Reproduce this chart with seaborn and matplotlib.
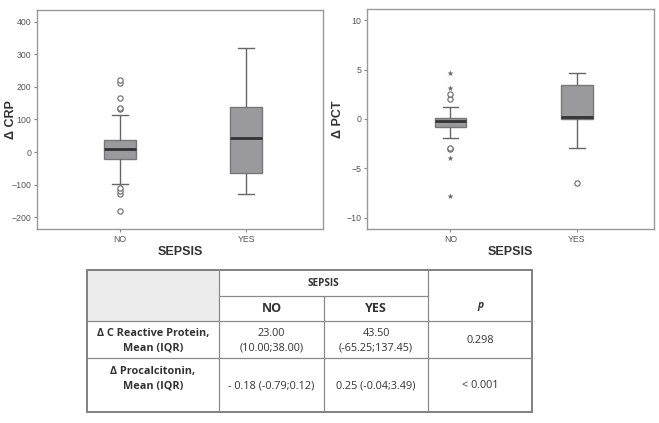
import numpy as np
import pandas as pd
import matplotlib
matplotlib.use("Agg")
import matplotlib.pyplot as plt
import seaborn as sns
from matplotlib.patches import Rectangle

# ---------------- data ----------------
groups = ["NO", "YES"]

# Δ CRP (values inside whiskers, mild outliers o)
crp_no_box = [-98, -52, -21, -14, -6, 0, 4, 7, 10, 15, 19, 24, 29, 33, 38, 114]
crp_no_out = [-182, -128, -118, -110, 131, 134, 165, 213, 222]
crp_yes_box = [-130, -95, -65.25, -10, 43.5, 90, 137.45, 210, 320]
crp_yes_out = []
crp_ticks = [-200, -100, 0, 100, 200, 300, 400]

# Δ PCT (values inside whiskers, mild outliers o, extremes *)
pct_no_box = [-1.93, -1.2, -0.79, -0.6, -0.5, -0.4, -0.3, -0.25, -0.18,
              -0.1, -0.05, 0.0, 0.05, 0.1, 0.12, 0.6, 1.25]
pct_no_out = [-3.0, -2.9, 2.03, 2.5]
pct_no_ext = [-7.8, -3.94, 3.18, 4.68]
pct_yes_box = [-2.99, -0.04, 0.1, 0.25, 1.8, 3.49, 4.1, 4.68]
pct_yes_out = [-6.48]
pct_yes_ext = []
pct_ticks = [-10, -5, 0, 5, 10]

# table text
tbl_group_title = "SEPSIS"
tbl_cols = ["NO", "YES"]
tbl_p_head = "p"
tbl_rows = ["\u0394 C Reactive Protein,\nMean (IQR)", "\u0394 Procalcitonin,\nMean (IQR)"]
tbl_no = ["23.00\n(10.00;38.00)", "- 0.18 (-0.79;0.12)"]
tbl_yes = ["43.50\n(-65.25;137.45)", "0.25 (-0.04;3.49)"]
tbl_p = ["0.298", "< 0.001"]

# ---------------- figure ----------------
W, H = 659, 423
fig = plt.figure(figsize=(W / 100, H / 100), dpi=100)
plt.rcParams["font.family"] = ["Liberation Sans", "DejaVu Sans"]

BOX = "#9a9a9c"
EDGE = "#6a6a6a"


def frame(df_list, labels):
    g, v = [], []
    for lab, vals in zip(labels, df_list):
        g += [lab] * len(vals)
        v += list(vals)
    return pd.DataFrame({"SEPSIS": g, "val": v})


def panel(rect, box_no, box_yes, out_no, out_yes, ext_no, ext_yes,
          ylabel, ylim, yticks, ylab_x):
    x0, y0, x1, y1 = rect
    ax = fig.add_axes([x0 / W, 1 - y1 / H, (x1 - x0) / W, (y1 - y0) / H])
    full = frame([box_no + out_no + ext_no, box_yes + out_yes + ext_yes], groups)
    sns.boxplot(data=full, x="SEPSIS", y="val", order=groups, ax=ax,
                width=0.25, color=BOX, saturation=1, linecolor=EDGE,
                linewidth=1.0, showfliers=False, whis=1.5,
                medianprops=dict(color="#333333", linewidth=2.0),
                whiskerprops=dict(color="#666666", linewidth=1.0),
                capprops=dict(color="#666666", linewidth=1.0),
                boxprops=dict(edgecolor="#777777", linewidth=1.0))
    odf = frame([out_no, out_yes], groups)
    if len(odf):
        sns.stripplot(data=odf, x="SEPSIS", y="val", order=groups, ax=ax,
                      jitter=False, marker="o", color="white",
                      edgecolor="#666666", linewidth=0.8, size=3.8, zorder=5)
    edf = frame([ext_no, ext_yes], groups)
    if len(edf):
        sns.stripplot(data=edf, x="SEPSIS", y="val", order=groups, ax=ax,
                      jitter=False, marker="*", color="#666666",
                      linewidth=0, size=4.5, zorder=5)
    ax.set_xlim(-0.66, 1.61)
    ax.set_ylim(*ylim)
    ax.set_yticks(yticks)
    ax.set_xlabel("SEPSIS", fontsize=9, fontweight="bold", color="#333333",
                  labelpad=2)
    ax.set_ylabel(ylabel, fontsize=9, fontweight="bold", color="#333333")
    ax.yaxis.set_label_coords((ylab_x - x0) / (x1 - x0), 0.5)
    ax.tick_params(axis="both", length=2.5, width=0.8, color="#888888",
                   labelsize=6.3, labelcolor="#555555", direction="out", pad=1.5)
    for s in ax.spines.values():
        s.set_color("#999999")
        s.set_linewidth(1.0)
    return ax


panel((37, 10, 323, 229), crp_no_box, crp_yes_box, crp_no_out, crp_yes_out,
      [], [], "\u0394 CRP", (-236, 436), crp_ticks, 17.5)
panel((367, 9, 654, 229), pct_no_box, pct_yes_box, pct_no_out, pct_yes_out,
      pct_no_ext, pct_yes_ext, "\u0394 PCT", (-11.15, 11.15), pct_ticks, 344)

# ---------------- table ----------------
tax = fig.add_axes([0, 0, 1, 1])
tax.set_xlim(0, W)
tax.set_ylim(H, 0)
tax.axis("off")

L, C1, C2, C3, R = 86.7, 219.3, 324.0, 428.3, 532.3
T, HS, HB, RB, B = 269.7, 295.7, 321.0, 358.3, 411.7
LC = "#8a8a8a"
tax.add_patch(Rectangle((L, T), C1 - L, HB - T, facecolor="#ececec",
                        edgecolor="none"))
lw = 0.9
for (xa, ya, xb, yb) in [
    (C1, HS, C3, HS), (L, HB, R, HB), (L, RB, R, RB),
    (C1, T, C1, B), (C2, HS, C2, B), (C3, T, C3, B)]:
    tax.plot([xa, xb], [ya, yb], color=LC, lw=lw, solid_capstyle="butt")
tax.add_patch(Rectangle((L, T), R - L, B - T, facecolor="none",
                        edgecolor="#777777", lw=1.3))

TF = ["Open Sans", "DejaVu Sans"]
TC = "#333333"
tax.text((C1 + C3) / 2, 283.5, tbl_group_title, ha="center", va="center",
         fontsize=7.2, fontweight="bold", family=TF, color=TC)
tax.text((C1 + C2) / 2, 309, tbl_cols[0], ha="center", va="center",
         fontsize=9, fontweight="bold", family=TF, color=TC)
tax.text((C2 + C3) / 2, 309, tbl_cols[1], ha="center", va="center",
         fontsize=9, fontweight="bold", family=TF, color=TC)
tax.text((C3 + R) / 2, 305.5, tbl_p_head, ha="center", va="center",
         fontsize=7.5, fontweight="bold", fontstyle="italic", family=TF, color=TC)

row_lab_y = [340.8, 379.2]
row_val_y = [340.8, 385.7]
for i in range(2):
    tax.text((L + C1) / 2, row_lab_y[i], tbl_rows[i], ha="center", va="center",
             fontsize=7.8, fontweight="bold", family=TF, color=TC,
             linespacing=1.45)
    for xc, txt in [((C1 + C2) / 2, tbl_no[i]), ((C2 + C3) / 2, tbl_yes[i]),
                    ((C3 + R) / 2, tbl_p[i])]:
        tax.text(xc, row_val_y[i] if "\n" not in txt else row_lab_y[i], txt,
                 ha="center", va="center", fontsize=7.8, family=TF, color=TC,
                 linespacing=1.45)

fig.savefig("out.png", dpi=100)
